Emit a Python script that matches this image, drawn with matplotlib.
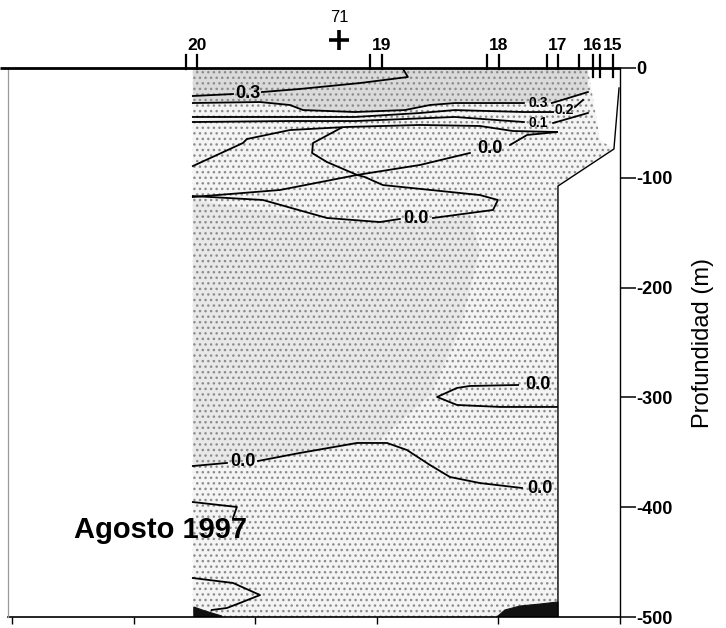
import matplotlib
matplotlib.use("Agg")
import matplotlib.pyplot as plt
from matplotlib.patches import Polygon
import numpy as np

plt.rcParams['font.family'] = ['Liberation Sans', 'DejaVu Sans']
plt.rcParams['hatch.linewidth'] = 1.0

# --- stations along the section (distance in km) ---
station_names = ['20', '19', '18', '17', '16', '15']
station_km = [76.1, 152.1, 200.2, 224.5, 238.9, 247.1]
cast_km = [71.5, 147.2, 195.3, 220.0, 233.1, 241.8]
mark_name = '71'
mark_km = 134.5

# --- axes ---
depth_ticks = [0, -100, -200, -300, -400, -500]
depth_labels = ['0', '-100', '-200', '-300', '-400', '-500']
dist_ticks = [0, 50, 100, 150, 200, 250]

# --- seafloor profile (km, m) ---
bottom_km = [224.5, 224.5, 247.5, 249.6]
bottom_m = [500, 107.5, 73.8, 18.2]

# --- sampled part of the section ---
section_km = [74.4, 236.8, 241.8, 247.5, 224.5, 224.5, 74.4]
section_m = [0, 0, 65.6, 73.8, 107.5, 500, 500]

# core of higher values in the middle layer
core_km = [74.4, 130.8, 159.5, 188.3, 192.4, 184.2, 171.9, 151.3, 118.4, 74.4]
core_m = [120.2, 140.3, 140.3, 133.9, 165.8, 238.7, 297.6, 338.8, 352.5, 362.5]

# dark patches near the bottom
patch_left_km = [74.8, 79.4, 86.3, 86.3, 74.8]
patch_left_m = [490.9, 494.5, 499.1, 500, 500]
patch_right_km = [199.4, 202.7, 208.9, 217.1, 224.5, 224.5]
patch_right_m = [500, 493.6, 490.0, 488.2, 486.3, 500]

# --- isolines (km, m) ---
c1_km = [74.4, 90.9, 102.8, 118.4, 143.1, 162.8, 160.8]
c1_m = [25.5, 23.7, 21.9, 19.1, 13.7, 8.2, 0.9]

c2_km = [74.4, 102.0, 114.3, 119.7, 141.0, 161.6, 171.9, 182.1, 210.5, 222.0, 226.2, 236.8]
c2_m = [31.9, 31.0, 33.7, 38.3, 40.1, 38.3, 33.7, 31.9, 31.9, 31.9, 29.1, 21.9]

c3_km = [74.4, 118.4, 141.0, 167.8, 182.1, 210.5, 222.5, 231.5, 234.8]
c3_m = [44.6, 44.6, 44.6, 41.0, 38.3, 40.1, 40.1, 35.5, 29.1]

c4_km = [74.4, 114.3, 141.0, 182.1, 210.5, 222.5, 236.8]
c4_m = [49.2, 48.3, 48.3, 44.6, 49.2, 50.1, 41.0]

c5_km = [74.4, 95.0, 96.6, 114.3, 137.7, 167.8, 192.4, 206.0, 224.1]
c5_m = [89.3, 68.3, 64.7, 56.5, 53.7, 51.9, 52.8, 57.4, 58.3]

c6_km = [74.4, 110.2, 141.9, 167.8, 188.3, 204.8, 211.8, 224.1]
c6_m = [117.5, 111.1, 97.4, 88.3, 77.4, 70.1, 61.0, 58.3]

c7_km = [135.3, 123.8, 123.4, 129.5, 141.9]
c7_m = [54.6, 68.3, 77.4, 85.6, 97.4]

c8_km = [74.4, 103.2, 129.5, 151.3, 159.5, 173.1, 197.8, 199.8, 192.4, 152.5, 145.1, 141.9]
c8_m = [116.6, 120.2, 136.6, 140.3, 137.5, 136.6, 129.3, 120.2, 115.7, 106.6, 99.3, 97.4]

c9_km = [224.1, 208.1, 188.3, 183.0, 174.8, 183.0, 200.7, 224.1]
c9_m = [288.7, 288.7, 289.6, 291.4, 299.6, 306.9, 308.7, 308.7]

c10_km = [74.4, 88.4, 101.2, 118.4, 141.9, 154.2, 162.4, 171.9, 180.1, 192.4, 209.7, 224.1]
c10_m = [362.5, 359.7, 357.9, 350.6, 341.5, 341.5, 347.9, 361.6, 372.5, 378.0, 382.5, 383.4]

c11_km = [74.4, 92.5, 90.9]
c11_m = [395.3, 399.8, 409.8]

c12_km = [74.4, 90.9, 102.0, 93.8, 88.4, 82.2]
c12_m = [464.5, 469.0, 480.0, 487.2, 491.8, 493.6]

# (x, depth, [(segment index holding a label, label text)], label size)
isolines = [
    (c1_km, c1_m, [(1, '0.3')], 13),
    (c2_km, c2_m, [(8, '0.3')], 10),
    (c3_km, c3_m, [(6, '0.2')], 10),
    (c4_km, c4_m, [(4, '0.1')], 10),
    (c5_km, c5_m, [], 13),
    (c6_km, c6_m, [(4, '0.0')], 13),
    (c7_km, c7_m, [], 13),
    (c8_km, c8_m, [(4, '0.0')], 13),
    (c9_km, c9_m, [(0, '0.0')], 13),
    (c10_km, c10_m, [(1, '0.0'), (10, '0.0')], 13),
    (c11_km, c11_m, [], 13),
    (c12_km, c12_m, [], 13),
]

W, H = 726, 628
fig = plt.figure(figsize=(W / 100, H / 100), dpi=100)
ax = fig.add_axes([8 / W, 11 / H, 612 / W, 549 / H])
ax.set_xlim(-1.6, 250)
ax.set_ylim(-500, 0)


def poly(xs, ds):
    return np.column_stack([xs, -np.asarray(ds, dtype=float)])


# stippled section: tonal layers under one dot screen
ax.add_patch(Polygon(poly(section_km, section_m), closed=True, facecolor='#f4f4f4',
                     edgecolor='none', zorder=1))
ax.add_patch(Polygon(poly(core_km, core_m), closed=True, facecolor='#e8e8e8',
                     edgecolor='none', zorder=1.1))
top_band = poly([c2_km[0]] + c2_km + [c2_km[-1]], [0] + c2_m + [0])
ax.add_patch(Polygon(top_band, closed=True, facecolor='#dadada',
                     edgecolor='none', zorder=1.2))
ax.add_patch(Polygon(poly(section_km, section_m), closed=True, facecolor='none',
                     edgecolor='#8c8c8c', lw=0, hatch='...', zorder=1.5))
for pk, pm in [(patch_left_km, patch_left_m), (patch_right_km, patch_right_m)]:
    ax.add_patch(Polygon(poly(pk, pm), closed=True, facecolor='#111111',
                         edgecolor='#111111', lw=0.8, zorder=2))

# seafloor
ax.plot(bottom_km, -np.asarray(bottom_m), color='k', lw=1.0, zorder=3)


def draw_isoline(xs, ds, labels, fs):
    xs = np.asarray(xs, dtype=float)
    ys = -np.asarray(ds, dtype=float)
    start = 0
    for i, _ in sorted(labels):
        ax.plot(xs[start:i + 1], ys[start:i + 1], color='k', lw=1.3, zorder=4)
        start = i + 1
    ax.plot(xs[start:], ys[start:], color='k', lw=1.3, zorder=4)
    for i, txt in labels:
        ax.text((xs[i] + xs[i + 1]) / 2, (ys[i] + ys[i + 1]) / 2, txt,
                ha='center', va='center', fontsize=fs, fontweight='bold', zorder=5)


for xs, ds, labels, fs in isolines:
    draw_isoline(xs, ds, labels, fs)

# frame
for side in ['top', 'left']:
    ax.spines[side].set_visible(False)
ax.spines['right'].set_linewidth(1.0)
ax.spines['bottom'].set_linewidth(1.2)
ax.plot([-1.6, -1.6], [-500, 0], color='#9a9a9a', lw=0.9, zorder=3, clip_on=False)
ax.plot([-4.9, 250], [0, 0], color='k', lw=2.0, zorder=6, clip_on=False, solid_capstyle='butt')

# depth axis on the right
ax.yaxis.tick_right()
ax.set_yticks(depth_ticks)
ax.set_yticklabels(depth_labels, fontweight='bold')
ax.tick_params(axis='y', direction='out', length=11.5, width=1.1, pad=0, labelsize=13)
ax.set_xticks(dist_ticks)
ax.set_xticklabels([])
ax.tick_params(axis='x', direction='out', length=5, width=1.0)

# station marks along the surface
for x in cast_km + station_km:
    ax.plot([x, x], [-1, 11.5], color='k', lw=1.6, zorder=6, clip_on=False)
for x in station_km[4:] + cast_km[5:]:
    ax.plot([x, x], [-8, 0], color='k', lw=1.6, zorder=6, clip_on=False)
for name, x in zip(station_names, station_km):
    ax.annotate(name, (x, 0), xytext=(0, 11), textcoords='offset points',
                ha='center', va='bottom', fontsize=12.5, fontweight='bold',
                annotation_clip=False)
ax.plot([mark_km], [25.5], marker='+', ms=15, mew=2.6, color='k', clip_on=False, zorder=6)
ax.annotate(mark_name, (mark_km, 0), xytext=(0, 36), textcoords='offset points',
            ha='center', va='center', fontsize=12, annotation_clip=False)

ax.text(61.3, -420.8, 'Agosto 1997', ha='center', va='center', fontsize=21,
        fontweight='bold', zorder=7)
fig.text(703 / W, 1 - 343 / H, 'Profundidad (m)', rotation=90, ha='center',
         va='center', fontsize=17)

fig.savefig('out.png', dpi=100)
